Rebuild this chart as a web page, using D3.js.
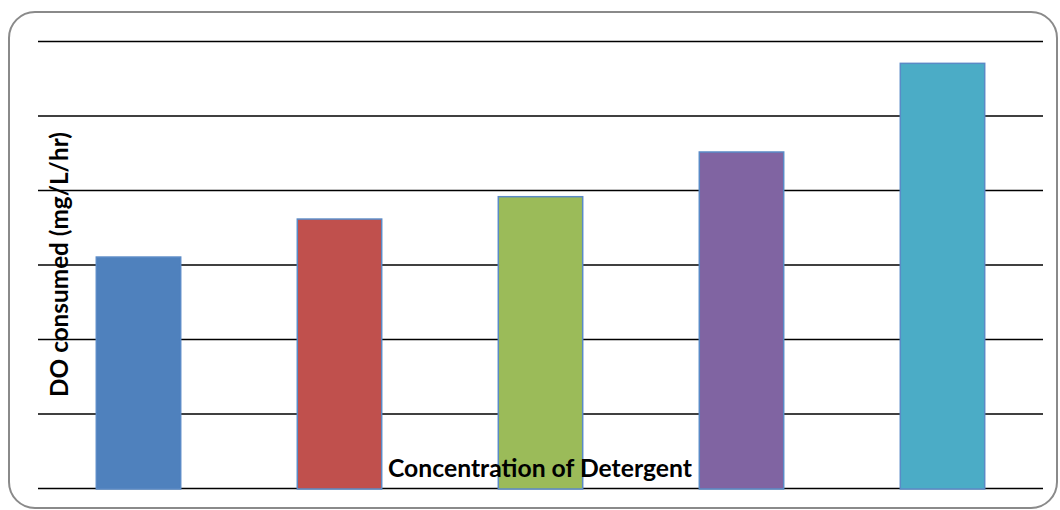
<!DOCTYPE html>
<html>
<head>
<meta charset="utf-8">
<script src="https://cdn.jsdelivr.net/npm/d3@7"></script>
<style>
  html, body { margin: 0; padding: 0; background: #fff; }
  svg { display: block; }
  .grid line { stroke: #000; stroke-width: 1.3; }
  .grid path { display: none; }
  .grid text { display: none; }
  .lbl { font-family: Lato, "Open Sans", sans-serif; font-weight: bold; fill: #000; }
</style>
</head>
<body>
<svg id="chart" width="1060" height="510"></svg>
<script>
// Detergent concentration levels (categories) and the oxygen consumed at each
const categories = ["Level 1", "Level 2", "Level 3", "Level 4", "Level 5"];
const doConsumed = [3.10, 3.61, 3.91, 4.51, 5.70];
const barColors = ["#4F81BD", "#C0504D", "#9BBB59", "#8064A2", "#4BACC6"];
const yTicks = [0, 1, 2, 3, 4, 5, 6];
const xTitle = "Concentration of Detergent";
const yTitle = "DO consumed (mg/L/hr)";

const svg = d3.select("#chart");
const W = 1060, H = 510;

// Rounded frame around the chart
svg.append("rect")
  .attr("x", 9).attr("y", 12)
  .attr("width", 1048).attr("height", 496)
  .attr("rx", 26).attr("ry", 26)
  .attr("fill", "#fff")
  .attr("stroke", "#8a8a8a")
  .attr("stroke-width", 2);

const plot = { left: 38, right: 1043, top: 41, bottom: 488 };

const x = d3.scaleBand()
  .domain(categories)
  .range([plot.left, plot.right])
  .paddingInner(0.58)
  .paddingOuter(0.29);

const y = d3.scaleLinear()
  .domain([0, 6])
  .range([plot.bottom, plot.top]);

// Horizontal gridlines
svg.append("g")
  .attr("class", "grid")
  .attr("transform", `translate(${plot.left},0)`)
  .call(d3.axisLeft(y).tickValues(yTicks).tickSize(-(plot.right - plot.left)).tickFormat(""));

// Bars
svg.append("g")
  .selectAll("rect")
  .data(categories.map((c, i) => ({ c, v: doConsumed[i], color: barColors[i] })))
  .join("rect")
  .attr("x", d => x(d.c))
  .attr("y", d => y(d.v))
  .attr("width", x.bandwidth())
  .attr("height", d => y(0) - y(d.v) + 1)
  .attr("fill", d => d.color)
  .attr("stroke", "#5A8AC6")
  .attr("stroke-width", 1.5);

// Fit a bold title to a given pixel length
function fitText(sel, targetLen, startSize) {
  let fs = startSize;
  sel.style("font-size", fs + "px");
  const len = sel.node().getComputedTextLength();
  fs = fs * targetLen / len;
  sel.style("font-size", fs.toFixed(2) + "px");
}

// X axis title
const xt = svg.append("text")
  .attr("class", "lbl")
  .attr("x", 540)
  .attr("y", 477)
  .attr("text-anchor", "middle")
  .text(xTitle);
fitText(xt, 304, 20);

// Y axis title
const yt = svg.append("text")
  .attr("class", "lbl")
  .attr("transform", "translate(68,264.5) rotate(-90)")
  .attr("text-anchor", "middle")
  .text(yTitle);
fitText(yt, 265, 20);
</script>
</body>
</html>
